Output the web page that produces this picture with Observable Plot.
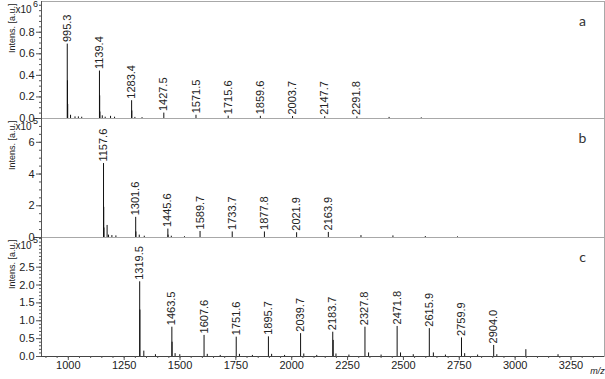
<!DOCTYPE html>
<html><head><meta charset="utf-8">
<script src="https://cdn.jsdelivr.net/npm/d3@7"></script>
<script src="https://cdn.jsdelivr.net/npm/@observablehq/plot@0.6"></script>
<style>
body{margin:0;background:#fff;}
#chart{position:relative;width:605px;height:379px;overflow:hidden;background:#fff;font-family:"Liberation Sans",Arial,sans-serif;}
#chart svg{position:absolute;left:0;background:transparent !important;overflow:visible;}
</style></head><body><div id="chart"></div>
<script>
// x axis
const xDomain = [880, 3400];
const xTicks = [1000, 1250, 1500, 1750, 2000, 2250, 2500, 2750, 3000, 3250];

// panel a (x10^6)
const aMz  = [995.3, 996.3, 997.3, 1010, 1030, 1045, 1060, 1139.4, 1140.4, 1141.4, 1152, 1165, 1189, 1207, 1283.4, 1284.4, 1298, 1330, 1427.5, 1571.5, 1715.6, 1859.6, 2003.7, 2147.7, 2291.8, 2435.8, 2579.9];
const aInt = [0.69, 0.35, 0.13, 0.03, 0.015, 0.015, 0.012, 0.44, 0.21, 0.06, 0.025, 0.012, 0.02, 0.012, 0.165, 0.07, 0.01, 0.008, 0.05, 0.03, 0.022, 0.02, 0.018, 0.016, 0.015, 0.01, 0.006];
const aLabels = [995.3, 1139.4, 1283.4, 1427.5, 1571.5, 1715.6, 1859.6, 2003.7, 2147.7, 2291.8];
const aTicks = [0, 0.2, 0.4, 0.6, 0.8];

// panel b (x10^5)
const bMz  = [1157.6, 1158.6, 1159.6, 1173.6, 1180, 1195, 1213, 1301.6, 1302.6, 1317.6, 1340, 1445.6, 1446.6, 1461, 1520, 1589.7, 1733.7, 1877.8, 2021.9, 2163.9, 2310, 2453, 2598, 2742];
const bInt = [4.66, 1.9, 0.6, 0.76, 0.15, 0.12, 0.1, 1.27, 0.35, 0.15, 0.08, 0.53, 0.15, 0.08, 0.05, 0.38, 0.35, 0.35, 0.3, 0.32, 0.12, 0.1, 0.06, 0.04];
const bLabels = [1157.6, 1301.6, 1445.6, 1589.7, 1733.7, 1877.8, 2021.9, 2163.9];
const bTicks = [0, 2, 4, 6];

// panel c (x10^5)
const cMz  = [1319.5, 1320.5, 1338, 1390, 1463.5, 1464.5, 1478, 1499, 1607.6, 1622, 1680, 1751.6, 1766, 1824, 1895.7, 1910, 1968, 2039.7, 2054, 2112, 2183.7, 2185.7, 2198, 2256, 2327.8, 2344, 2400, 2471.8, 2487, 2544, 2615.9, 2634, 2688, 2759.9, 2774, 2832, 2904.0, 2918, 3048, 3192];
const cInt = [2.09, 1.3, 0.15, 0.05, 0.82, 0.4, 0.08, 0.05, 0.59, 0.06, 0.03, 0.54, 0.06, 0.03, 0.55, 0.06, 0.03, 0.64, 0.07, 0.03, 0.68, 0.45, 0.07, 0.04, 0.82, 0.1, 0.04, 0.84, 0.1, 0.05, 0.78, 0.1, 0.04, 0.52, 0.08, 0.04, 0.31, 0.05, 0.19, 0.05];
const cLabels = [1319.5, 1463.5, 1607.6, 1751.6, 1895.7, 2039.7, 2183.7, 2327.8, 2471.8, 2615.9, 2759.9, 2904.0];
const cTicks = [0, 0.5, 1.0, 1.5, 2.0, 2.5];

const FONT = '"Liberation Sans", Arial, sans-serif';
const INK = "#222";

function range(a, b, s) { const r = []; for (let v = a; v <= b + 1e-9; v += s) r.push(+v.toFixed(4)); return r; }

function panel(o) {
  const peaks = o.mz.map((m, i) => ({mz: m, v: o.int[i]}));
  const labeled = o.labels.map(m => peaks.find(p => p.mz === m));
  const marks = [
    Plot.frame({stroke: "#a8a8a8"}),
    Plot.ruleX(peaks, {x: "mz", y1: 0, y2: "v", stroke: "#111", strokeWidth: 1}),
    Plot.text(labeled, {x: "mz", y: "v", text: d => d.mz.toFixed(1), rotate: -90, textAnchor: "start", dy: -2, fontSize: 11, fill: INK}),
    Plot.axisY({ticks: o.ticks, tickSize: 5, tickPadding: 2, tickFormat: o.fmt, fontSize: 11, stroke: "#555", fill: INK, label: null}),
    Plot.axisY({ticks: o.minor, tickSize: 2, tickFormat: () => "", stroke: "#555", label: null}),
    Plot.ruleX([xDomain[0]], {stroke: "#555"}),
    Plot.ruleY([0], {stroke: "#444"}),
    Plot.text(["x10"], {frameAnchor: "top-left", dx: -26, dy: 4, textAnchor: "start", lineAnchor: "top", fontSize: 10, fill: INK}),
    Plot.text([o.exp], {frameAnchor: "top-left", dx: -8.5, dy: -1, textAnchor: "start", lineAnchor: "top", fontSize: 9, fill: INK}),
    Plot.text(["Intens. [a.u.]"], {frameAnchor: "top-left", dx: -33, dy: 2, rotate: -90, textAnchor: "end", fontSize: 9, fill: INK}),
    Plot.text([o.letter], {frameAnchor: "top-right", dx: -22, dy: 15, textAnchor: "middle", fontSize: 14, fontFamily: "Lato, 'Open Sans', sans-serif", fill: "#333"})
  ];
  if (o.xaxis) {
    marks.push(
      Plot.axisX({ticks: xTicks, tickSize: 4, tickPadding: 1, tickFormat: d => String(d), fontSize: 11, stroke: "#555", fill: INK, label: null}),
      Plot.axisX({ticks: range(900, 3350, 50), tickSize: 2, tickFormat: () => "", stroke: "#555", label: null}),
      Plot.text(["m/z"], {frameAnchor: "bottom-right", dx: -7, dy: 17, textAnchor: "middle", fontSize: 9, fontStyle: "italic", fill: INK})
    );
  }
  const svg = Plot.plot({
    width: 605, height: o.height,
    marginLeft: 41, marginRight: 1, marginTop: 1, marginBottom: o.mb,
    x: o.xaxis ? {domain: xDomain, label: null} : {domain: xDomain, axis: null, label: null},
    y: {domain: o.domain, label: null},
    style: {fontFamily: FONT, fontSize: "11px", background: "transparent", color: INK, overflow: "visible"},
    marks
  });
  svg.style.top = o.top + "px";
  document.getElementById("chart").appendChild(svg);
}

panel({mz: aMz, int: aInt, labels: aLabels, ticks: aTicks, minor: range(0, 1.05, 0.05), fmt: d => d.toFixed(1), domain: [0, 1.085], exp: "6", letter: "a", top: 0, height: 120, mb: 2});
panel({mz: bMz, int: bInt, labels: bLabels, ticks: bTicks, minor: range(0, 7.5, 0.5), fmt: d => String(d), domain: [0, 7.5], exp: "5", letter: "b", top: 117, height: 121, mb: 1});
panel({mz: cMz, int: cInt, labels: cLabels, ticks: cTicks, minor: range(0, 3.3, 0.1), fmt: d => d.toFixed(1), domain: [0, 3.33], exp: "5", letter: "c", top: 236, height: 143, mb: 23, xaxis: true});
</script></body></html>
